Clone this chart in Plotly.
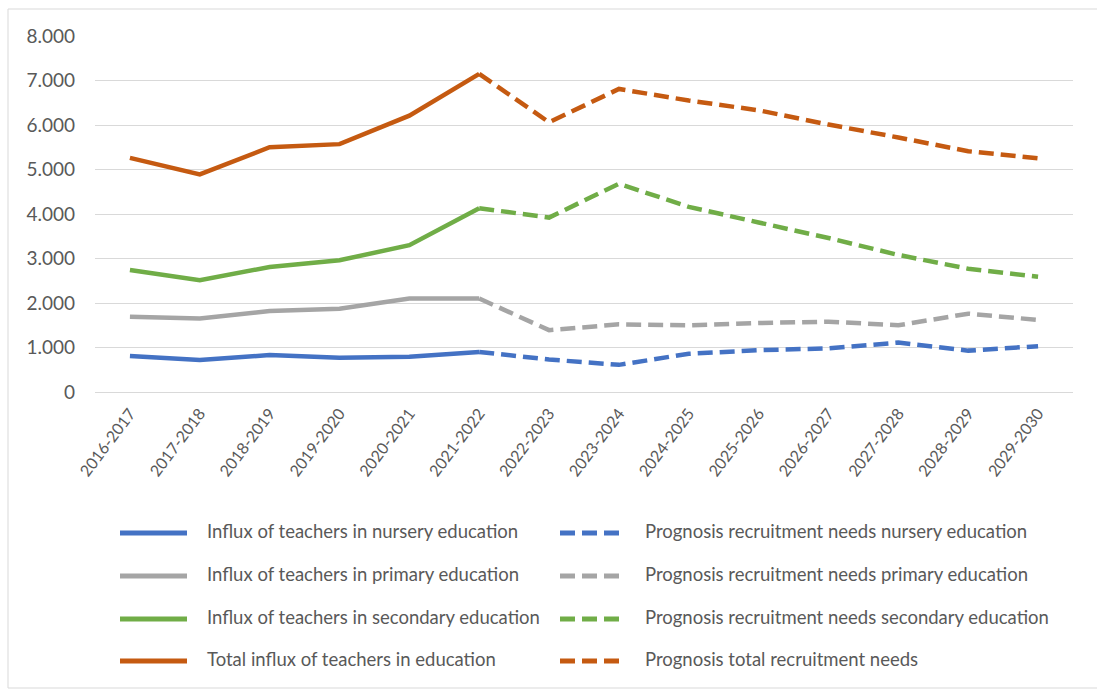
import plotly.graph_objects as go

# School years on the category axis
years = ["2016-2017", "2017-2018", "2018-2019", "2019-2020", "2020-2021",
         "2021-2022", "2022-2023", "2023-2024", "2024-2025", "2025-2026",
         "2026-2027", "2027-2028", "2028-2029", "2029-2030"]

# Observed influx of teachers (up to 2021-2022)
nursery_influx = [810, 720, 830, 770, 790, 900]
primary_influx = [1690, 1650, 1820, 1870, 2100, 2100]
secondary_influx = [2740, 2510, 2810, 2960, 3300, 4130]
total_influx = [5260, 4890, 5500, 5570, 6210, 7150]

# Prognosis of recruitment needs (continues from 2021-2022)
nursery_prognosis = [None] * 5 + [900, 730, 610, 860, 940, 980, 1110, 930, 1030]
primary_prognosis = [None] * 5 + [2100, 1390, 1520, 1500, 1550, 1580, 1500, 1760, 1620]
secondary_prognosis = [None] * 5 + [4130, 3920, 4680, 4160, 3810, 3460, 3080, 2770, 2590]
total_prognosis = [None] * 5 + [7150, 6060, 6810, 6550, 6330, 6010, 5720, 5410, 5250]

BLUE = "#4472C4"
GREY = "#A5A5A5"
GREEN = "#70AD47"
ORANGE = "#C55A11"
TEXT = "#595959"
GRID = "#D9D9D9"
FONT = "Lato, 'Liberation Sans Narrow', sans-serif"
DASH = "15px,7px"

series = [
    ("Influx of teachers in nursery education", years[:6], nursery_influx, BLUE, "solid"),
    ("Prognosis recruitment needs nursery education", years, nursery_prognosis, BLUE, DASH),
    ("Influx of teachers in primary education", years[:6], primary_influx, GREY, "solid"),
    ("Prognosis recruitment needs primary education", years, primary_prognosis, GREY, DASH),
    ("Influx of teachers in secondary education", years[:6], secondary_influx, GREEN, "solid"),
    ("Prognosis recruitment needs secondary education", years, secondary_prognosis, GREEN, DASH),
    ("Total influx of teachers in education", years[:6], total_influx, ORANGE, "solid"),
    ("Prognosis total recruitment needs", years, total_prognosis, ORANGE, DASH),
]

fig = go.Figure()
for name, xs, ys, color, dash in series:
    fig.add_trace(go.Scatter(
        x=xs, y=ys, name=name, mode="lines",
        line=dict(color=color, width=4.5, dash=dash),
        connectgaps=False, showlegend=False,
    ))

# Figure geometry (pixels)
W, H = 1097, 689
L, R, T, B = 95, 24, 36, 297
pw, ph = W - L - R, H - T - B


def px(x):
    return (x - L) / pw


def py(y):
    return (H - B - y) / ph


shapes = []
annotations = []

# Chart area border
shapes.append(dict(type="rect", xref="paper", yref="paper",
                   x0=px(8), x1=px(1102), y0=py(688), y1=py(9),
                   line=dict(color=GRID, width=1), fillcolor="rgba(0,0,0,0)",
                   layer="below"))

# Two-column legend: observed influx on the left, prognosis on the right
row_y = [533, 576, 619, 661]
cols = [(120, 187, 205), (560, 625, 643)]
for i, (name, xs, ys, color, dash) in enumerate(series):
    row, col = i // 2, i % 2
    x0, x1, xt = cols[col]
    y = row_y[row]
    shapes.append(dict(type="line", xref="paper", yref="paper",
                       x0=px(x0), x1=px(x1), y0=py(y), y1=py(y),
                       line=dict(color=color, width=5, dash=dash)))
    annotations.append(dict(xref="paper", yref="paper", x=px(xt), y=py(y - 2),
                            text=name, showarrow=False, xanchor="left",
                            yanchor="middle",
                            font=dict(family=FONT, size=18.5, color=TEXT)))

fig.update_layout(
    width=W, height=H,
    margin=dict(l=L, r=R, t=T, b=B, autoexpand=False),
    paper_bgcolor="white", plot_bgcolor="white",
    separators=",.",
    font=dict(family=FONT, size=15, color=TEXT),
    shapes=shapes, annotations=annotations,
    showlegend=False,
    xaxis=dict(type="category", categoryorder="array", categoryarray=years,
               range=[-0.5, 13.5], showgrid=False, zeroline=False,
               showline=False, ticks="", tickangle=-53,
               ticklabelstandoff=8,
               tickfont=dict(family=FONT, size=16, color=TEXT)),
    yaxis=dict(range=[0, 8000], dtick=1000, tickformat=",d",
               showgrid=True, gridcolor=GRID, gridwidth=1,
               zeroline=True, zerolinecolor=GRID, zerolinewidth=1,
               showline=False, ticks="", ticklabelstandoff=19,
               tickfont=dict(family=FONT, size=19, color=TEXT)),
)

fig.write_html("out.html")
